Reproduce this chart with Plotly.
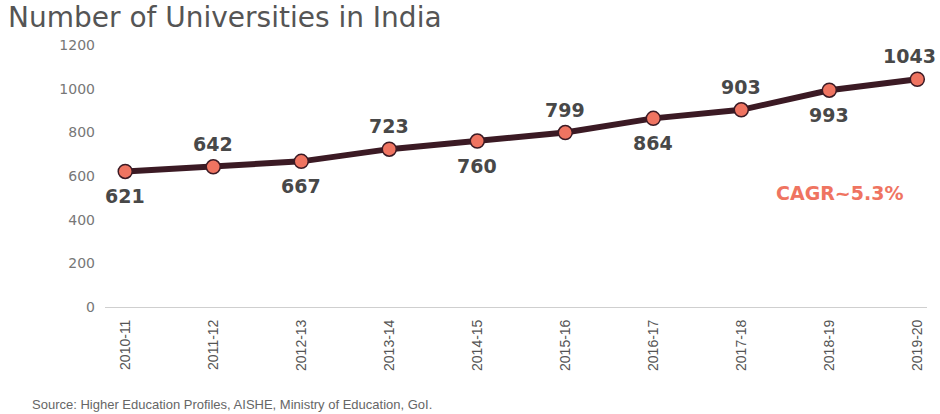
import plotly.graph_objects as go

years = ["2010-11", "2011-12", "2012-13", "2013-14", "2014-15",
         "2015-16", "2016-17", "2017-18", "2018-19", "2019-20"]
universities = [621, 642, 667, 723, 760, 799, 864, 903, 993, 1043]
y_ticks = [0, 200, 400, 600, 800, 1000, 1200]

title_text = "Number of Universities in India"
cagr_text = "CAGR~5.3%"
source_text = "Source: Higher Education Profiles, AISHE, Ministry of Education, GoI."

LINE = "#3b1a24"
CORAL = "#EF7461"

PLOT_TOP, PLOT_BOTTOM = 45, 307
PLOT_H = PLOT_BOTTOM - PLOT_TOP
PLOT_L, PLOT_R = 105, 927
PLOT_W = PLOT_R - PLOT_L

fig = go.Figure()
fig.add_trace(go.Scatter(
    x=years, y=universities, mode="lines+markers",
    line=dict(color=LINE, width=6),
    marker=dict(size=14, color=CORAL, line=dict(color=LINE, width=1.5)),
    hoverinfo="skip", showlegend=False,
))

annotations = []
n = len(years)
for i, (yr, v) in enumerate(zip(years, universities)):
    above = (i % 2 == 1)
    annotations.append(dict(
        x=yr, y=v, xref="x", yref="y", text=str(v), showarrow=False,
        yshift=23 if above else -25,
        xshift=-8 if i == n - 1 else 0,
        font=dict(family="DejaVu Sans", size=19, color="#484848", weight="bold"),
    ))

annotations.append(dict(
    x=(840 - PLOT_L) / PLOT_W, y=(PLOT_BOTTOM - 193) / PLOT_H,
    xref="paper", yref="paper", xanchor="center", yanchor="middle",
    text=cagr_text, showarrow=False,
    font=dict(family="DejaVu Sans", size=19, color=CORAL, weight="bold"),
))
annotations.append(dict(
    x=(30 - PLOT_L) / PLOT_W, y=(PLOT_BOTTOM - 404) / PLOT_H,
    xref="paper", yref="paper", xanchor="left", yanchor="middle",
    text=source_text, showarrow=False,
    font=dict(family="Liberation Sans", size=13, color="#666666"),
))

fig.update_layout(
    width=940, height=414,
    margin=dict(l=PLOT_L, r=940 - PLOT_R, t=PLOT_TOP, b=414 - PLOT_BOTTOM),
    paper_bgcolor="white", plot_bgcolor="white",
    title=dict(text=title_text, x=8 / 940, xref="container", xanchor="left",
               y=1 - 17 / 414, yref="container", yanchor="middle",
               font=dict(family="DejaVu Sans", size=28, color="#555555")),
    annotations=annotations,
    xaxis=dict(type="category", range=[-0.23, 9.11], showgrid=False,
               showline=True, linecolor="#cfcfcf", linewidth=1,
               tickangle=-90, ticks="", ticklabelstandoff=6,
               tickfont=dict(family="Liberation Sans", size=14, color="#555555")),
    yaxis=dict(range=[0, 1200], tickvals=y_ticks, showgrid=False, zeroline=False,
               showline=False, ticks="", ticklabelstandoff=9,
               tickfont=dict(family="DejaVu Sans", size=14, color="#777777")),
)

fig.write_html("out.html")
